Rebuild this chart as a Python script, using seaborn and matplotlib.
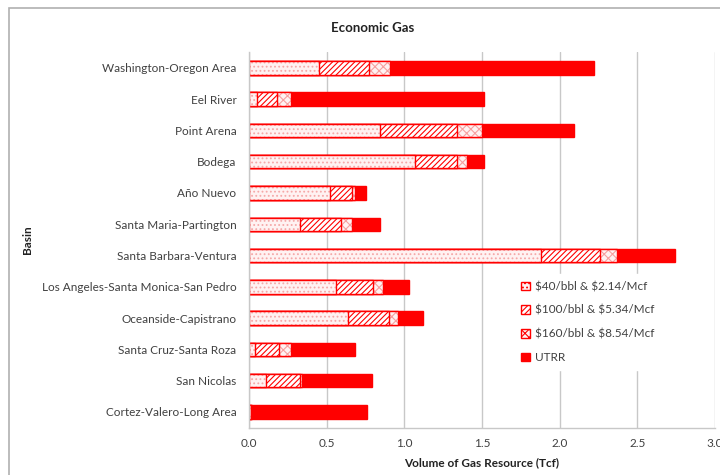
import matplotlib.pyplot as plt
from matplotlib.patches import Patch, Rectangle
import numpy as np
import seaborn as sns

basins = ["Washington-Oregon Area", "Eel River", "Point Arena", "Bodega", "Año Nuevo",
          "Santa Maria-Partington", "Santa Barbara-Ventura",
          "Los Angeles-Santa Monica-San Pedro", "Oceanside-Capistrano",
          "Santa Cruz-Santa Roza", "San Nicolas", "Cortez-Valero-Long Area"]

# increments per price case (Tcf)
p40 = [0.45, 0.05, 0.84, 1.07, 0.52, 0.33, 1.88, 0.56, 0.64, 0.04, 0.11, 0.01]
p100 = [0.32, 0.13, 0.50, 0.27, 0.14, 0.26, 0.38, 0.24, 0.26, 0.15, 0.22, 0.005]
p160 = [0.14, 0.09, 0.16, 0.06, 0.02, 0.07, 0.11, 0.06, 0.06, 0.08, 0.01, 0.005]
utrr = [1.31, 1.24, 0.59, 0.11, 0.07, 0.18, 0.37, 0.17, 0.16, 0.41, 0.45, 0.74]

labels = [r"\$40/bbl & \$2.14/Mcf", r"\$100/bbl & \$5.34/Mcf",
          r"\$160/bbl & \$8.54/Mcf", "UTRR"]

c1 = np.array(p40)
c2 = c1 + np.array(p100)
c3 = c2 + np.array(p160)
c4 = c3 + np.array(utrr)

sns.set_style("white")
plt.rcParams['font.family'] = ['Lato', 'DejaVu Sans']
plt.rcParams['hatch.linewidth'] = 0.8

fig = plt.figure(figsize=(7.2, 4.75), dpi=100)
ax = fig.add_axes([0.346, 0.10, 0.647, 0.79])

RED = "#ff0000"
H = 0.43

def layer(vals, face, hatch, hcol):
    n0 = len(ax.patches)
    sns.barplot(x=vals, y=basins, orient="h", color=face, width=H,
                saturation=1, ax=ax)
    for p in ax.patches[n0:]:
        p.set_facecolor(face)
        p.set_edgecolor(hcol)
        p.set_hatch(hatch)
        p.set_linewidth(0)
    n1 = len(ax.patches)
    sns.barplot(x=vals, y=basins, orient="h", fill=False, width=H, ax=ax)
    for p in ax.patches[n1:]:
        p.set_edgecolor(RED)
        p.set_linewidth(1.0)

layer(c4, RED, None, RED)
layer(c3, "#fff2f2", "xxxx", "#f7a0a0")
layer(c2, "white", "//////", RED)
layer(c1, "#fff2f2", "....", "#f5a8a8")

ax.set_xlim(0, 3.0)
ax.set_ylim(11.5, -0.5)
ax.set_xticks(np.arange(0, 3.01, 0.5))
ax.set_xticklabels([f"{v:.1f}" for v in np.arange(0, 3.01, 0.5)])
ax.grid(axis="x", color="#c8c8c8", linewidth=1)
ax.set_axisbelow(True)
ax.tick_params(axis="y", length=0, labelsize=8.5, labelcolor="#404040", pad=9)
ax.tick_params(axis="x", length=4, color="#c8c8c8", labelsize=8.5,
               labelcolor="#404040", direction="out")
ax.set_yticks(np.arange(-0.5, 12, 1), minor=True)
ax.tick_params(axis="y", which="minor", length=5, color="#bbbbbb",
               direction="out")
for s in ["top", "right"]:
    ax.spines[s].set_visible(False)
for s in ["left", "bottom"]:
    ax.spines[s].set_color("#c8c8c8")
    ax.spines[s].set_linewidth(1)

ax.set_xlabel("Volume of Gas Resource (Tcf)", fontsize=8.5, fontweight="bold",
              color="#222222", labelpad=6)
ax.set_ylabel("Basin", fontsize=8.5, fontweight="bold", color="#222222")
ax.yaxis.set_label_coords(-0.463, 0.5)
fig.text(0.517, 0.94, "Economic Gas", ha="center", va="center", fontsize=9.5,
         fontweight="bold", color="#222222")

handles = [
    Patch(facecolor="#fff2f2", edgecolor=RED, hatch="...."),
    Patch(facecolor="white", edgecolor=RED, hatch="//////"),
    Patch(facecolor="#fff2f2", edgecolor=RED, hatch="xxxx"),
    Patch(facecolor=RED, edgecolor=RED),
]
leg = ax.legend(handles, labels, loc="upper left", bbox_to_anchor=(0.556, 0.425),
                frameon=True, fontsize=8.5, handlelength=0.75, handleheight=0.75,
                labelspacing=1.08, handletextpad=0.4, borderpad=0.6)
leg.get_frame().set_edgecolor("white")
leg.get_frame().set_facecolor("white")
leg.get_frame().set_alpha(1)
for t in leg.get_texts():
    t.set_color("#404040")

fig.patches.append(Rectangle((0.012, -0.01), 0.99, 0.993, transform=fig.transFigure,
                             fill=False, edgecolor="#b0b0b0", linewidth=1.2))

fig.savefig("out.png", dpi=100)
